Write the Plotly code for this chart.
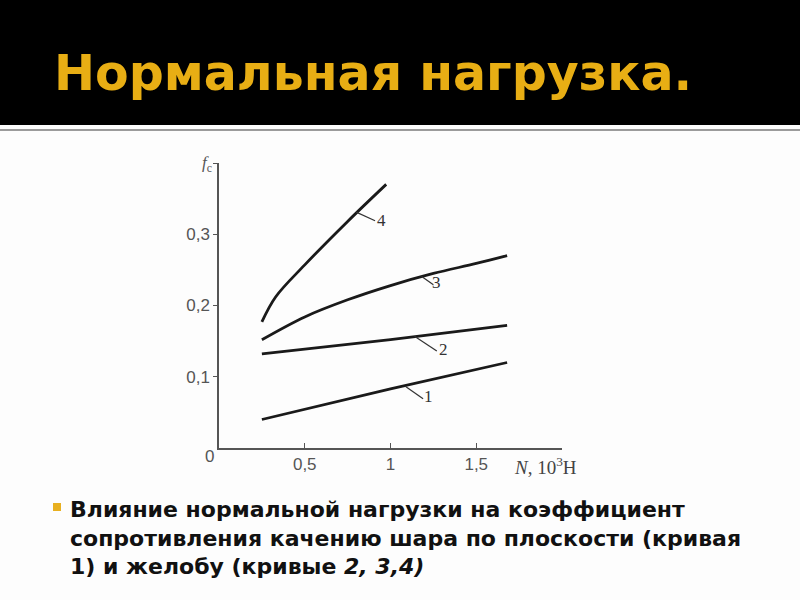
import plotly.graph_objects as go

# load N, 10^3 H
n_1 = [0.25, 1.0, 1.68]
f_1 = [0.040, 0.083, 0.120]
n_2 = [0.25, 1.0, 1.68]
f_2 = [0.132, 0.152, 0.172]
n_3 = [0.25, 0.5, 0.75, 1.0, 1.25, 1.5, 1.68]
f_3 = [0.152, 0.184, 0.208, 0.228, 0.245, 0.259, 0.270]
n_4 = [0.25, 0.33, 0.5, 0.75, 0.975]
f_4 = [0.177, 0.212, 0.257, 0.318, 0.370]

curve_names = ["1", "2", "3", "4"]
label_n = [1.22, 1.31, 1.27, 0.95]
label_f = [0.072, 0.138, 0.232, 0.320]
# leader from curve to number
leader_n = [[1.09, 1.19], [1.14, 1.27], [1.18, 1.25], [0.80, 0.91]]
leader_f = [[0.086, 0.069], [0.157, 0.136], [0.241, 0.229], [0.331, 0.319]]

x_ticks = [0.5, 1.0, 1.5, 2.0]
x_ticktext = ["0,5", "1", "1,5", ""]
y_ticks = [0.1, 0.2, 0.3, 0.4]
y_ticktext = ["0,1", "0,2", "0,3", ""]

title = "Нормальная нагрузка."
caption = ("Влияние нормальной нагрузки на коэффициент<br>"
           "сопротивления качению шара по плоскости (кривая<br>"
           "1) и желобу (кривые <i>2, 3,4)</i>")

W, H = 800, 600


def px(x):
    return x / W


def py(y):
    return 1 - y / H


fig = go.Figure()

for n, f in zip([n_1, n_2, n_3, n_4], [f_1, f_2, f_3, f_4]):
    fig.add_trace(go.Scatter(x=n, y=f, mode="lines",
                             line=dict(color="#1a1a1a", width=2.8, shape="spline", smoothing=1.0),
                             showlegend=False, hoverinfo="skip"))

for n, f in zip(leader_n, leader_f):
    fig.add_trace(go.Scatter(x=n, y=f, mode="lines",
                             line=dict(color="#333", width=1.2),
                             showlegend=False, hoverinfo="skip"))

for name, n, f in zip(curve_names, label_n, label_f):
    fig.add_annotation(x=n, y=f, xref="x", yref="y", text=name, showarrow=False,
                       font=dict(family="Liberation Serif", size=17, color="#333"))

# axis captions
fig.add_annotation(x=0, y=0, xref="x", yref="y", text="0", showarrow=False,
                   xanchor="right", yanchor="top", xshift=-3, yshift=3,
                   font=dict(family="Liberation Sans", size=17, color="#555"))
fig.add_annotation(x=px(200), y=py(164), xref="paper", yref="paper", yanchor="middle",
                   text="<i>f</i><sub>c</sub>", showarrow=False,
                   font=dict(family="Liberation Serif", size=17, color="#555"))
fig.add_annotation(x=px(512), y=py(466), xref="paper", yref="paper", xanchor="left",
                   yanchor="middle", text="<i>N</i>, 10<sup>3</sup>H", showarrow=False,
                   font=dict(family="Liberation Serif", size=19, color="#444"))

# slide header and text
fig.add_shape(type="rect", xref="paper", yref="paper", x0=0, x1=1, y0=py(125), y1=1,
              fillcolor="black", line_width=0, layer="below")
fig.add_shape(type="line", xref="paper", yref="paper", x0=0, x1=1, y0=py(130), y1=py(130),
              line=dict(color="#7a7a7a", width=1.5))
fig.add_annotation(x=px(52), y=py(73), xref="paper", yref="paper", xanchor="left",
                   yanchor="middle", text=title, showarrow=False,
                   font=dict(family="DejaVu Sans", size=49, color="#E8AE14", weight="bold"))
fig.add_shape(type="rect", xref="paper", yref="paper", x0=px(53), x1=px(61),
              y0=py(511), y1=py(503), fillcolor="#E8B020", line_width=0)
fig.add_annotation(x=px(68), y=py(495), xref="paper", yref="paper", xanchor="left",
                   yanchor="top", align="left", text=caption, showarrow=False,
                   font=dict(family="DejaVu Sans", size=22, color="#111", weight="bold"))

fig.update_xaxes(range=[0, 2.0], domain=[px(219), px(562)], showgrid=False, zeroline=False,
                 showline=True, linecolor="#555", linewidth=1.5,
                 ticks="inside", ticklen=5, tickcolor="#555",
                 tickvals=x_ticks, ticktext=x_ticktext,
                 tickfont=dict(family="Liberation Sans", size=17, color="#555"))
fig.update_yaxes(range=[0, 0.4], domain=[py(448), py(163)], showgrid=False, zeroline=False,
                 showline=True, linecolor="#555", linewidth=1.5,
                 ticks="outside", ticklen=4, tickcolor="#555",
                 tickvals=y_ticks, ticktext=y_ticktext,
                 tickfont=dict(family="Liberation Sans", size=17, color="#555"))

fig.update_layout(width=W, height=H, margin=dict(l=0, r=0, t=0, b=0),
                  paper_bgcolor="#fdfdfd", plot_bgcolor="#fdfdfd")

fig.write_html("out.html", config={"displayModeBar": False},
               post_script="document.body.style.margin='0';")
